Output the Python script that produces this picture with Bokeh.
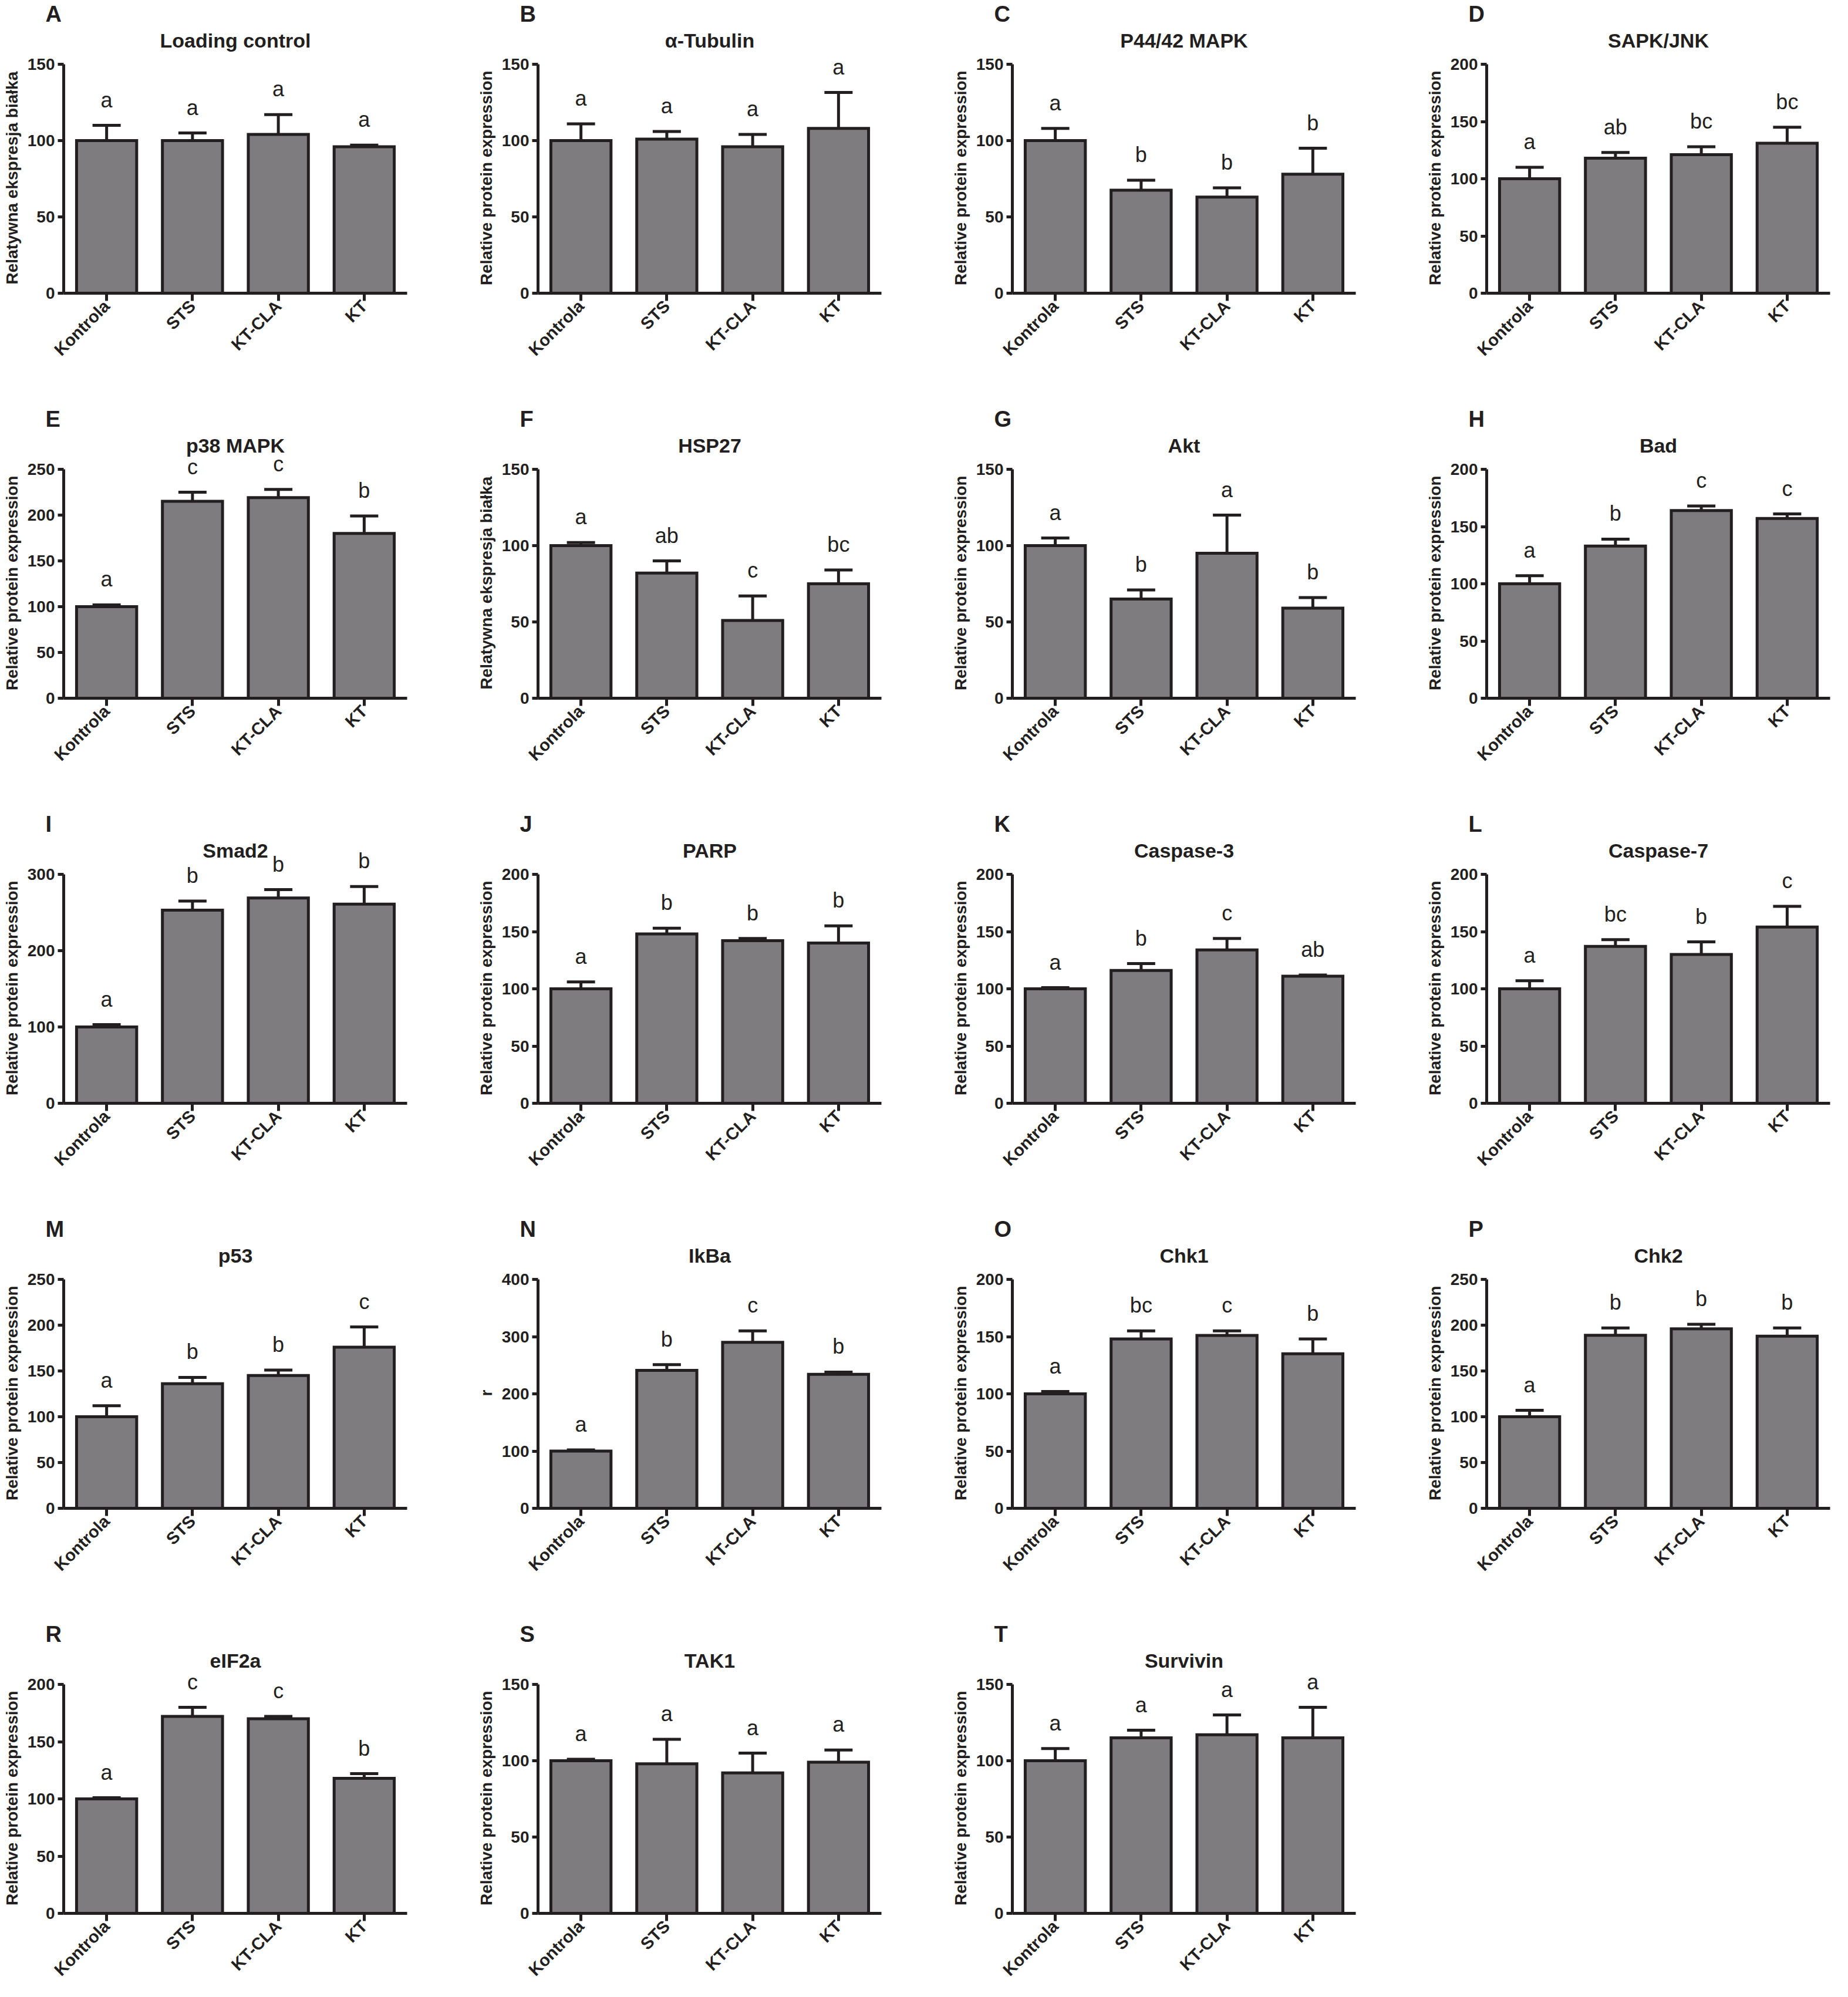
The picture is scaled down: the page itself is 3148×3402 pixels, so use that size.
import math
from bokeh.plotting import figure
from bokeh.models import (ColumnDataSource, FactorRange, Range1d, FixedTicker, Whisker,
                          TeeHead, LabelSet, Label, Title, CanvasTexture)
from bokeh.layouts import row, column
from bokeh.core.properties import value
from bokeh.embed import file_html
from bokeh.resources import INLINE

# ---------------- data ----------------
categories = ["Kontrola", "STS", "KT-CLA", "KT"]

mean_A = [100, 100, 104, 96];   err_A = [10, 5, 13, 1];    sig_A = ["a", "a", "a", "a"]
mean_B = [100, 101, 96, 108];   err_B = [11, 5, 8, 23.5];  sig_B = ["a", "a", "a", "a"]
mean_C = [100, 67.5, 63, 78];   err_C = [8, 6.5, 6, 17];   sig_C = ["a", "b", "b", "b"]
mean_D = [100, 118, 121, 131];  err_D = [10, 5, 7, 14];    sig_D = ["a", "ab", "bc", "bc"]
mean_E = [100, 215, 219, 180];  err_E = [2, 10, 9, 19];    sig_E = ["a", "c", "c", "b"]
mean_F = [100, 82, 51, 75];     err_F = [2, 8, 16, 9];     sig_F = ["a", "ab", "c", "bc"]
mean_G = [100, 65, 95, 59];     err_G = [5, 6, 25, 7];     sig_G = ["a", "b", "a", "b"]
mean_H = [100, 133, 164, 157];  err_H = [7, 6, 4, 4];      sig_H = ["a", "b", "c", "c"]
mean_I = [100, 253, 269, 261];  err_I = [3, 12, 11, 23];   sig_I = ["a", "b", "b", "b"]
mean_J = [100, 148, 142, 140];  err_J = [6, 5, 2, 15];     sig_J = ["a", "b", "b", "b"]
mean_K = [100, 116, 134, 111];  err_K = [1, 6, 10, 1];     sig_K = ["a", "b", "c", "ab"]
mean_L = [100, 137, 130, 154];  err_L = [7, 6, 11, 18];    sig_L = ["a", "bc", "b", "c"]
mean_M = [100, 136, 145, 176];  err_M = [12, 7, 6, 22];    sig_M = ["a", "b", "b", "c"]
mean_N = [100, 241, 290, 234];  err_N = [2, 10, 20, 4];    sig_N = ["a", "b", "c", "b"]
mean_O = [100, 148, 151, 135];  err_O = [2, 7, 4, 13];     sig_O = ["a", "bc", "c", "b"]
mean_P = [100, 189, 196, 188];  err_P = [7, 8, 5, 9];      sig_P = ["a", "b", "b", "b"]
mean_R = [100, 172, 170, 118];  err_R = [1, 8, 2, 4];      sig_R = ["a", "c", "c", "b"]
mean_S = [100, 98, 92, 99];     err_S = [1, 16, 13, 8];    sig_S = ["a", "a", "a", "a"]
mean_T = [100, 115, 117, 115];  err_T = [8, 5, 13, 20];    sig_T = ["a", "a", "a", "a"]

panel_letters = ["A", "B", "C", "D", "E", "F", "G", "H", "I", "J",
                 "K", "L", "M", "N", "O", "P", "R", "S", "T"]
panel_titles = ["Loading control", "\u03b1-Tubulin", "P44/42 MAPK", "SAPK/JNK",
                "p38 MAPK", "HSP27", "Akt", "Bad",
                "Smad2", "PARP", "Caspase-3", "Caspase-7",
                "p53", "IkBa", "Chk1", "Chk2",
                "eIF2a", "TAK1", "Survivin"]
PL = "Relatywna ekspresja bia\u0142ka"
EN = "Relative protein expression"
y_labels = [PL, EN, EN, EN, EN, PL, EN, EN, EN, EN, EN, EN, EN, "r", EN, EN, EN, EN, EN]
y_max = [150, 150, 150, 200, 250, 150, 150, 200, 300, 200, 200, 200, 250, 400, 200, 250, 200, 150, 150]
y_step = [50, 50, 50, 50, 50, 50, 50, 50, 100, 50, 50, 50, 50, 100, 50, 50, 50, 50, 50]

means = [mean_A, mean_B, mean_C, mean_D, mean_E, mean_F, mean_G, mean_H, mean_I, mean_J,
         mean_K, mean_L, mean_M, mean_N, mean_O, mean_P, mean_R, mean_S, mean_T]
errs = [err_A, err_B, err_C, err_D, err_E, err_F, err_G, err_H, err_I, err_J,
        err_K, err_L, err_M, err_N, err_O, err_P, err_R, err_S, err_T]
sigs = [sig_A, sig_B, sig_C, sig_D, sig_E, sig_F, sig_G, sig_H, sig_I, sig_J,
        sig_K, sig_L, sig_M, sig_N, sig_O, sig_P, sig_R, sig_S, sig_T]

# ---------------- style / layout ----------------
FONT = "Liberation Sans"
INK = "#231f20"
LIGHT = "#c6c6c6"

AXIS_PX = 390      # height of the 0..ymax part of each plot
HEAD_PX = 65       # room above ymax (title + letters) inside the frame
FRAME_W = 585
TOP = 44
ROW_H = 690
YLAB_PX = 28
# non-breaking spaces appended so the rotated axis label is centred on 0..ymax
PAD = "\u00a0" * round(HEAD_PX / (0.278 * YLAB_PX))

checker = CanvasTexture(code="""
ctx.fillStyle = '#c6c6c6';
ctx.fillRect(0, 0, scale, scale);
ctx.fillStyle = '#231f20';
ctx.fillRect(0, 0, scale / 2, scale / 2);
ctx.fillRect(scale / 2, scale / 2, scale / 2, scale / 2);
""")


def make_panel(i, col, rw):
    ymax = y_max[i]
    src = ColumnDataSource(dict(
        cats=categories,
        mean=means[i],
        top=[m + e for m, e in zip(means[i], errs[i])],
        sig=sigs[i],
    ))
    bottom = ROW_H - TOP - AXIS_PX - HEAD_PX if rw < 4 else 127
    p = figure(x_range=FactorRange(*categories),
               y_range=Range1d(0, ymax * (AXIS_PX + HEAD_PX) / AXIS_PX),
               frame_width=FRAME_W, frame_height=AXIS_PX + HEAD_PX,
               min_border_left=108, min_border_right=(115 if col < 3 else 10),
               min_border_top=TOP, min_border_bottom=bottom,
               toolbar_location=None, tools="", output_backend="svg", title=None,
               background_fill_color="white", border_fill_color="white")
    p.outline_line_color = None
    p.xgrid.visible = False
    p.ygrid.visible = False

    p.vbar(x="cats", top="mean", width=0.7, source=src,
           fill_color=LIGHT, line_color=INK, line_width=5, line_join="miter",
           hatch_pattern=value("ck"), hatch_extra={"ck": checker},
           hatch_scale=8, hatch_color=INK, hatch_alpha=1.0)

    wh = Whisker(base="cats", lower="mean", upper="top", source=src, dimension="height",
                 line_color=INK, line_width=5, lower_head=None,
                 upper_head=TeeHead(size=48, line_color=INK, line_width=5))
    wh.level = "overlay"
    p.add_layout(wh)

    p.add_layout(LabelSet(x="cats", y="top", text="sig", source=src, y_offset=31,
                          text_align="center", text_baseline="alphabetic",
                          text_font=value(FONT), text_font_size="36px", text_color=INK))

    p.add_layout(Label(x=2, y=ymax, y_offset=40.5, text=panel_titles[i],
                       text_align="center", text_baseline="alphabetic",
                       text_font=FONT, text_font_style="bold", text_font_size="34px",
                       text_color=INK))

    p.add_layout(Title(text=panel_letters[i], align="left", offset=-31, standoff=0,
                       text_font=FONT, text_font_style="bold", text_font_size="38px",
                       text_color=INK), "above")

    for ax in (p.xaxis[0], p.yaxis[0]):
        ax.axis_line_width = 5
        ax.axis_line_color = INK
        ax.major_tick_line_width = 5
        ax.major_tick_line_color = INK
        ax.minor_tick_line_color = None
        ax.major_tick_in = 0
        ax.major_label_text_font = FONT
        ax.major_label_text_font_style = "bold"
        ax.major_label_text_color = INK

    xa = p.xaxis[0]
    xa.major_tick_out = 13
    xa.major_label_orientation = math.pi / 4
    xa.major_label_standoff = 4
    xa.major_label_text_font_size = "29px"

    ya = p.yaxis[0]
    ya.bounds = (0, ymax)
    ya.ticker = FixedTicker(ticks=list(range(0, ymax + 1, y_step[i])))
    ya.major_tick_out = 10
    ya.major_label_standoff = 5
    ya.major_label_text_font_size = "28px"
    ya.axis_label = y_labels[i] + PAD
    ya.axis_label_standoff = 8
    ya.axis_label_text_font = FONT
    ya.axis_label_text_font_style = "bold"
    ya.axis_label_text_font_size = f"{YLAB_PX}px"
    ya.axis_label_text_color = INK
    return p


rows = []
for r in range(5):
    figs = []
    for c in range(4):
        i = r * 4 + c
        if i < len(panel_letters):
            figs.append(make_panel(i, c, r))
    rows.append(row(*figs, spacing=0))

layout = column(*rows, spacing=0)

open("out.html", "w").write(file_html(layout, INLINE))
